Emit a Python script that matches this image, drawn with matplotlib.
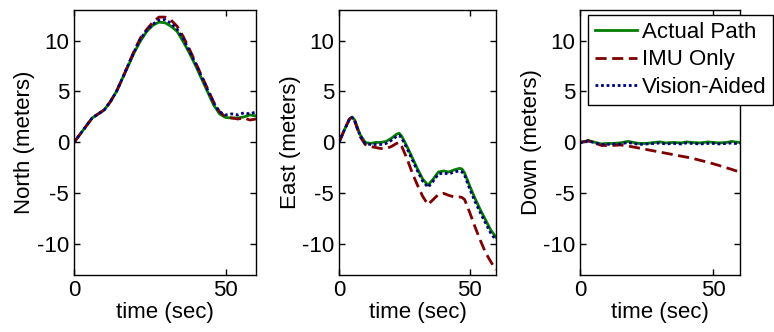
import matplotlib
matplotlib.use('Agg')
import matplotlib.pyplot as plt

plt.rcParams['font.family'] = ['Liberation Sans', 'DejaVu Sans']
plt.rcParams['axes.unicode_minus'] = False

# North panel
t_north = [0, 2, 4, 6, 8, 10, 12, 14, 16, 18, 20, 22, 24, 26, 28, 30,
           32, 34, 36, 38, 40, 42, 44, 46, 48, 50, 52, 54, 56, 58, 60]
north_actual = [0, 0.8, 1.6, 2.4, 2.8, 3.2, 4.0, 5.0, 6.3, 7.6, 8.9, 10.0, 10.9, 11.5, 11.8, 11.75,
                11.4, 10.9, 9.9, 8.8, 7.6, 6.3, 5.0, 3.7, 2.8, 2.45, 2.4, 2.4, 2.5, 2.7, 2.6]
north_imu = [0, 0.8, 1.6, 2.4, 2.8, 3.2, 4.0, 5.0, 6.3, 7.7, 9.1, 10.3, 11.1, 11.8, 12.3, 12.3,
             12.0, 11.4, 10.4, 9.2, 7.9, 6.6, 5.3, 4.0, 3.0, 2.5, 2.4, 2.3, 2.4, 2.2, 2.3]
north_vision = [0, 0.8, 1.6, 2.4, 2.8, 3.2, 4.0, 5.0, 6.3, 7.7, 9.0, 10.2, 11.0, 11.6, 12.0, 12.05,
                11.7, 11.1, 10.2, 9.0, 7.8, 6.5, 5.2, 3.9, 3.0, 2.7, 2.8, 2.7, 2.9, 2.8, 3.0]

# East panel
t_east = [0, 2, 4, 5, 6, 8, 10, 12, 14, 16, 18, 20, 22, 23, 24, 26, 28,
          30, 32, 34, 36, 38, 40, 42, 44, 46, 47, 48, 50, 52, 54, 56, 58, 60]
east_actual = [0, 1.2, 2.3, 2.5, 2.2, 0.8, 0.0, -0.1, 0.0, 0.0, 0.1, 0.4, 0.8, 0.9, 0.6, -0.4, -1.5,
               -2.6, -3.6, -4.2, -3.6, -2.9, -2.8, -2.9, -2.7, -2.55, -2.6, -3.0, -4.3, -5.5, -6.6, -7.6, -8.6, -9.3]
east_imu = [0, 1.2, 2.3, 2.5, 2.1, 0.6, -0.2, -0.4, -0.5, -0.6, -0.6, -0.4, -0.1, 0.0, -0.4, -1.6, -3.0,
            -4.2, -5.3, -6.1, -5.6, -5.1, -5.0, -5.2, -5.35, -5.35, -5.4, -5.6, -6.9, -8.3, -9.6, -10.8, -11.7, -12.5]
east_vision = [0, 1.2, 2.3, 2.45, 2.1, 0.7, -0.1, -0.2, -0.2, -0.2, -0.1, 0.2, 0.6, 0.7, 0.4, -0.6, -1.7,
               -2.8, -3.8, -4.4, -3.8, -3.1, -3.0, -3.1, -2.9, -2.8, -2.9, -3.2, -4.6, -5.8, -6.9, -7.9, -8.9, -9.6]

# Down panel
t_down = [0, 2, 3, 5, 8, 10, 12, 15, 17, 18, 20, 22, 25, 28, 30, 32,
          35, 38, 40, 42, 45, 48, 50, 52, 55, 57, 58, 60]
down_actual = [0, 0.1, 0.2, 0.05, -0.15, -0.1, -0.1, -0.05, 0.05, 0.1, 0.0, -0.1, -0.1, 0.0, 0.05, -0.05,
               0.0, -0.05, 0.05, 0.0, -0.05, 0.05, 0.0, -0.05, 0.0, 0.1, 0.05, 0.0]
down_imu = [0, 0.1, 0.15, 0.0, -0.3, -0.3, -0.3, -0.25, -0.3, -0.35, -0.45, -0.55, -0.7, -0.85, -0.95, -1.05,
            -1.2, -1.35, -1.45, -1.55, -1.75, -1.95, -2.1, -2.25, -2.5, -2.65, -2.75, -2.9]
down_vision = [0, 0.05, 0.15, 0.0, -0.2, -0.2, -0.15, -0.15, -0.05, 0.0, -0.1, -0.2, -0.15, -0.1, -0.05, -0.15,
               -0.1, -0.15, -0.05, -0.1, -0.15, -0.1, -0.1, -0.15, -0.1, -0.05, -0.1, -0.1]

labels = ['Actual Path', 'IMU Only', 'Vision-Aided']
ylabels = ['North (meters)', 'East (meters)', 'Down (meters)']

fig = plt.figure(figsize=(7.74, 3.32), dpi=100)
positions = [[0.0956, 0.172, 0.2351, 0.798],
             [0.438, 0.172, 0.2028, 0.798],
             [0.7494, 0.172, 0.2067, 0.798]]
panels = [(t_north, north_actual, north_imu, north_vision),
          (t_east, east_actual, east_imu, east_vision),
          (t_down, down_actual, down_imu, down_vision)]

for pos, (t, act, imu, vis), ylab in zip(positions, panels, ylabels):
    ax = fig.add_axes(pos)
    ax.plot(t, act, color='#007f00', lw=2.0, ls='-', label=labels[0])
    ax.plot(t, imu, color='#7f0000', lw=2.0, ls=(0, (4, 2)), label=labels[1])
    ax.plot(t, vis, color='#00007f', lw=2.0, ls=(0, (1, 1)), label=labels[2])
    ax.set_xlim(0, 60)
    ax.set_ylim(-13, 13)
    ax.set_xticks([0, 50])
    ax.set_yticks([-10, -5, 0, 5, 10])
    ax.tick_params(direction='in', top=True, right=True, length=4, labelsize=16, width=1)
    for s in ax.spines.values():
        s.set_linewidth(1.0)
    ax.set_xlabel('time (sec)', fontsize=16, labelpad=1)
    ax.set_ylabel(ylab, fontsize=16, labelpad=1)

leg = ax.legend(loc='upper right', bbox_to_anchor=(773 / 774, 1 - 15 / 332),
                bbox_transform=fig.transFigure, fontsize=16, fancybox=False,
                framealpha=1, edgecolor='black', handlelength=1.9, handletextpad=0.2,
                borderpad=0.3, labelspacing=0.3, borderaxespad=0)
leg.get_frame().set_linewidth(1.0)

plt.savefig('out.png', dpi=100)
